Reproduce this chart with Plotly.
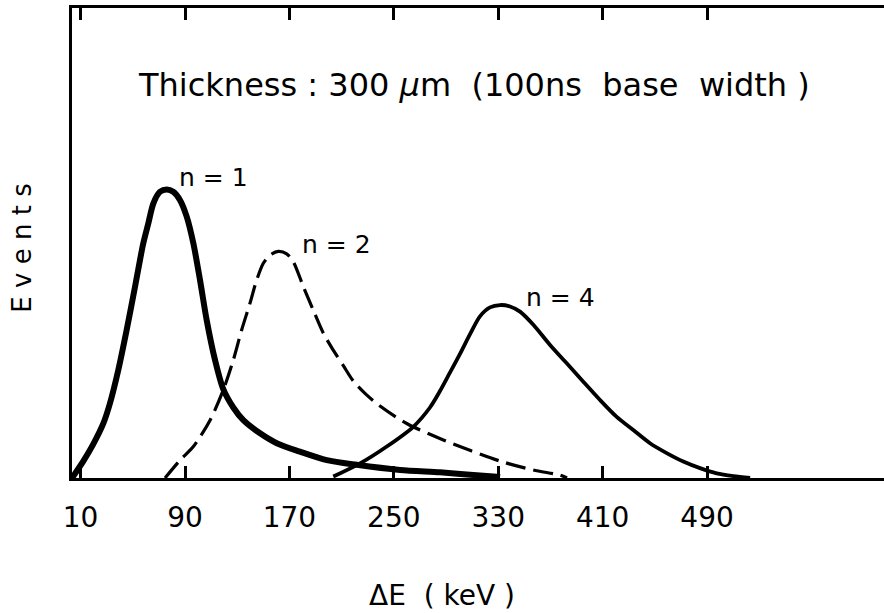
import plotly.graph_objects as go

# ---- data ----
tick_vals = [10, 90, 170, 250, 330, 410, 490]
tick_text = ["10", "90", "170", "250", "330", "410", "490"]

n1_x = [3.4, 12.1, 19.7, 27.4, 32.5, 38.9, 45.3, 51.7, 58.0, 61.9, 65.7, 70.8, 76.0, 81.0, 86.2,
        91.3, 96.4, 101.5, 106.6, 113.0, 119.3, 127.0, 134.7, 147.5, 160.3, 178.1, 198.6, 221.6,
        254.8, 285.4, 308.4, 331.4]
n1_y = [0.0, 3.6, 7.2, 11.6, 15.9, 23.0, 31.5, 40.7, 49.9, 54.2, 58.4, 60.9, 61.4, 60.9, 59.1,
        55.6, 49.9, 42.1, 33.6, 25.1, 18.9, 15.0, 12.3, 9.5, 7.4, 5.6, 3.8, 2.8,
        1.7, 1.2, 0.7, 0.2]

n2_x = [74.7, 86.2, 96.4, 109.2, 119.3, 127.0, 133.4, 139.8, 144.9, 150.0, 155.1, 161.5, 167.9,
        173.0, 180.7, 188.3, 196.0, 203.6, 211.3, 219.0, 227.9, 239.4, 259.9, 287.9, 331.4, 356.9,
        377.4, 382.7]
n2_y = [0.0, 3.8, 6.7, 12.3, 18.7, 25.1, 31.5, 37.2, 42.1, 45.7, 47.4, 48.2, 47.7,
        46.0, 40.7, 35.7, 30.8, 27.2, 23.9, 20.6, 18.0, 15.3, 11.6, 8.1, 3.6, 1.7,
        0.6, 0.0]

n4_x = [203.6, 224.1, 244.6, 264.9, 277.7, 285.4, 293.0, 300.7, 308.4, 316.0, 323.7, 331.4, 339.0,
        346.7, 356.9, 369.7, 382.5, 395.2, 408.0, 420.8, 433.5, 446.3, 459.1, 471.8, 484.6, 497.4,
        510.2, 523.0]
n4_y = [0.3, 3.1, 6.7, 10.9, 15.0, 18.5, 22.4, 26.4, 30.6, 34.4, 36.3, 36.8, 36.5,
        35.4, 32.6, 28.3, 24.4, 20.5, 16.6, 13.0, 10.2, 7.4, 5.3, 3.5, 2.1, 1.0,
        0.4, 0.0]

labels = ["n = 1", "n = 2", "n = 4"]
label_x = [112.2, 205.7, 377.4]
label_y = [64.0, 49.6, 38.3]

FONT = "DejaVu Sans"

fig = go.Figure()
fig.add_trace(go.Scatter(x=n1_x, y=n1_y, mode="lines",
                         line=dict(color="black", width=6, shape="spline", smoothing=0.8)))
fig.add_trace(go.Scatter(x=n2_x, y=n2_y, mode="lines",
                         line=dict(color="black", width=3.2, dash="20px,8px", shape="spline", smoothing=0.8)))
fig.add_trace(go.Scatter(x=n4_x, y=n4_y, mode="lines",
                         line=dict(color="black", width=3.8, shape="spline", smoothing=0.8)))

for t, x, y in zip(labels, label_x, label_y):
    fig.add_annotation(x=x, y=y, text=t, showarrow=False, xanchor="center", yanchor="middle",
                       font=dict(family=FONT, size=25, color="black"))

fig.add_annotation(xref="paper", yref="paper", x=0.495, y=0.836, xanchor="center", yanchor="middle",
                   text="Thickness : 300 <i>μ</i>m  (100ns  base  width )",
                   showarrow=False, font=dict(family=FONT, size=32, color="black"))
fig.add_annotation(xref="paper", yref="paper", x=0.456, y=-0.25, xanchor="center", yanchor="middle",
                   text="ΔE  ( keV )", showarrow=False,
                   font=dict(family=FONT, size=28, color="black"))
fig.add_annotation(xref="paper", yref="paper", x=-0.0616, y=0.49, xanchor="center", yanchor="middle",
                   text="E v e n t s", textangle=-90, showarrow=False,
                   font=dict(family=FONT, size=26, color="black"))

fig.update_layout(
    width=884, height=613,
    margin=dict(l=72, r=0, t=8, b=135),
    paper_bgcolor="white", plot_bgcolor="white",
    showlegend=False,
    xaxis=dict(range=[3.4, 625.6], tickvals=tick_vals, ticktext=tick_text,
               ticks="inside", ticklen=12, tickwidth=2.5, tickcolor="black",
               showline=True, linecolor="black", linewidth=3, mirror="ticks",
               showgrid=False, zeroline=False, ticklabelstandoff=12,
               tickfont=dict(family=FONT, size=28, color="black")),
    yaxis=dict(range=[0, 100], showticklabels=False, ticks="",
               showline=True, linecolor="black", linewidth=2.5,
               showgrid=False, zeroline=False),
)

fig.write_html("out.html")
